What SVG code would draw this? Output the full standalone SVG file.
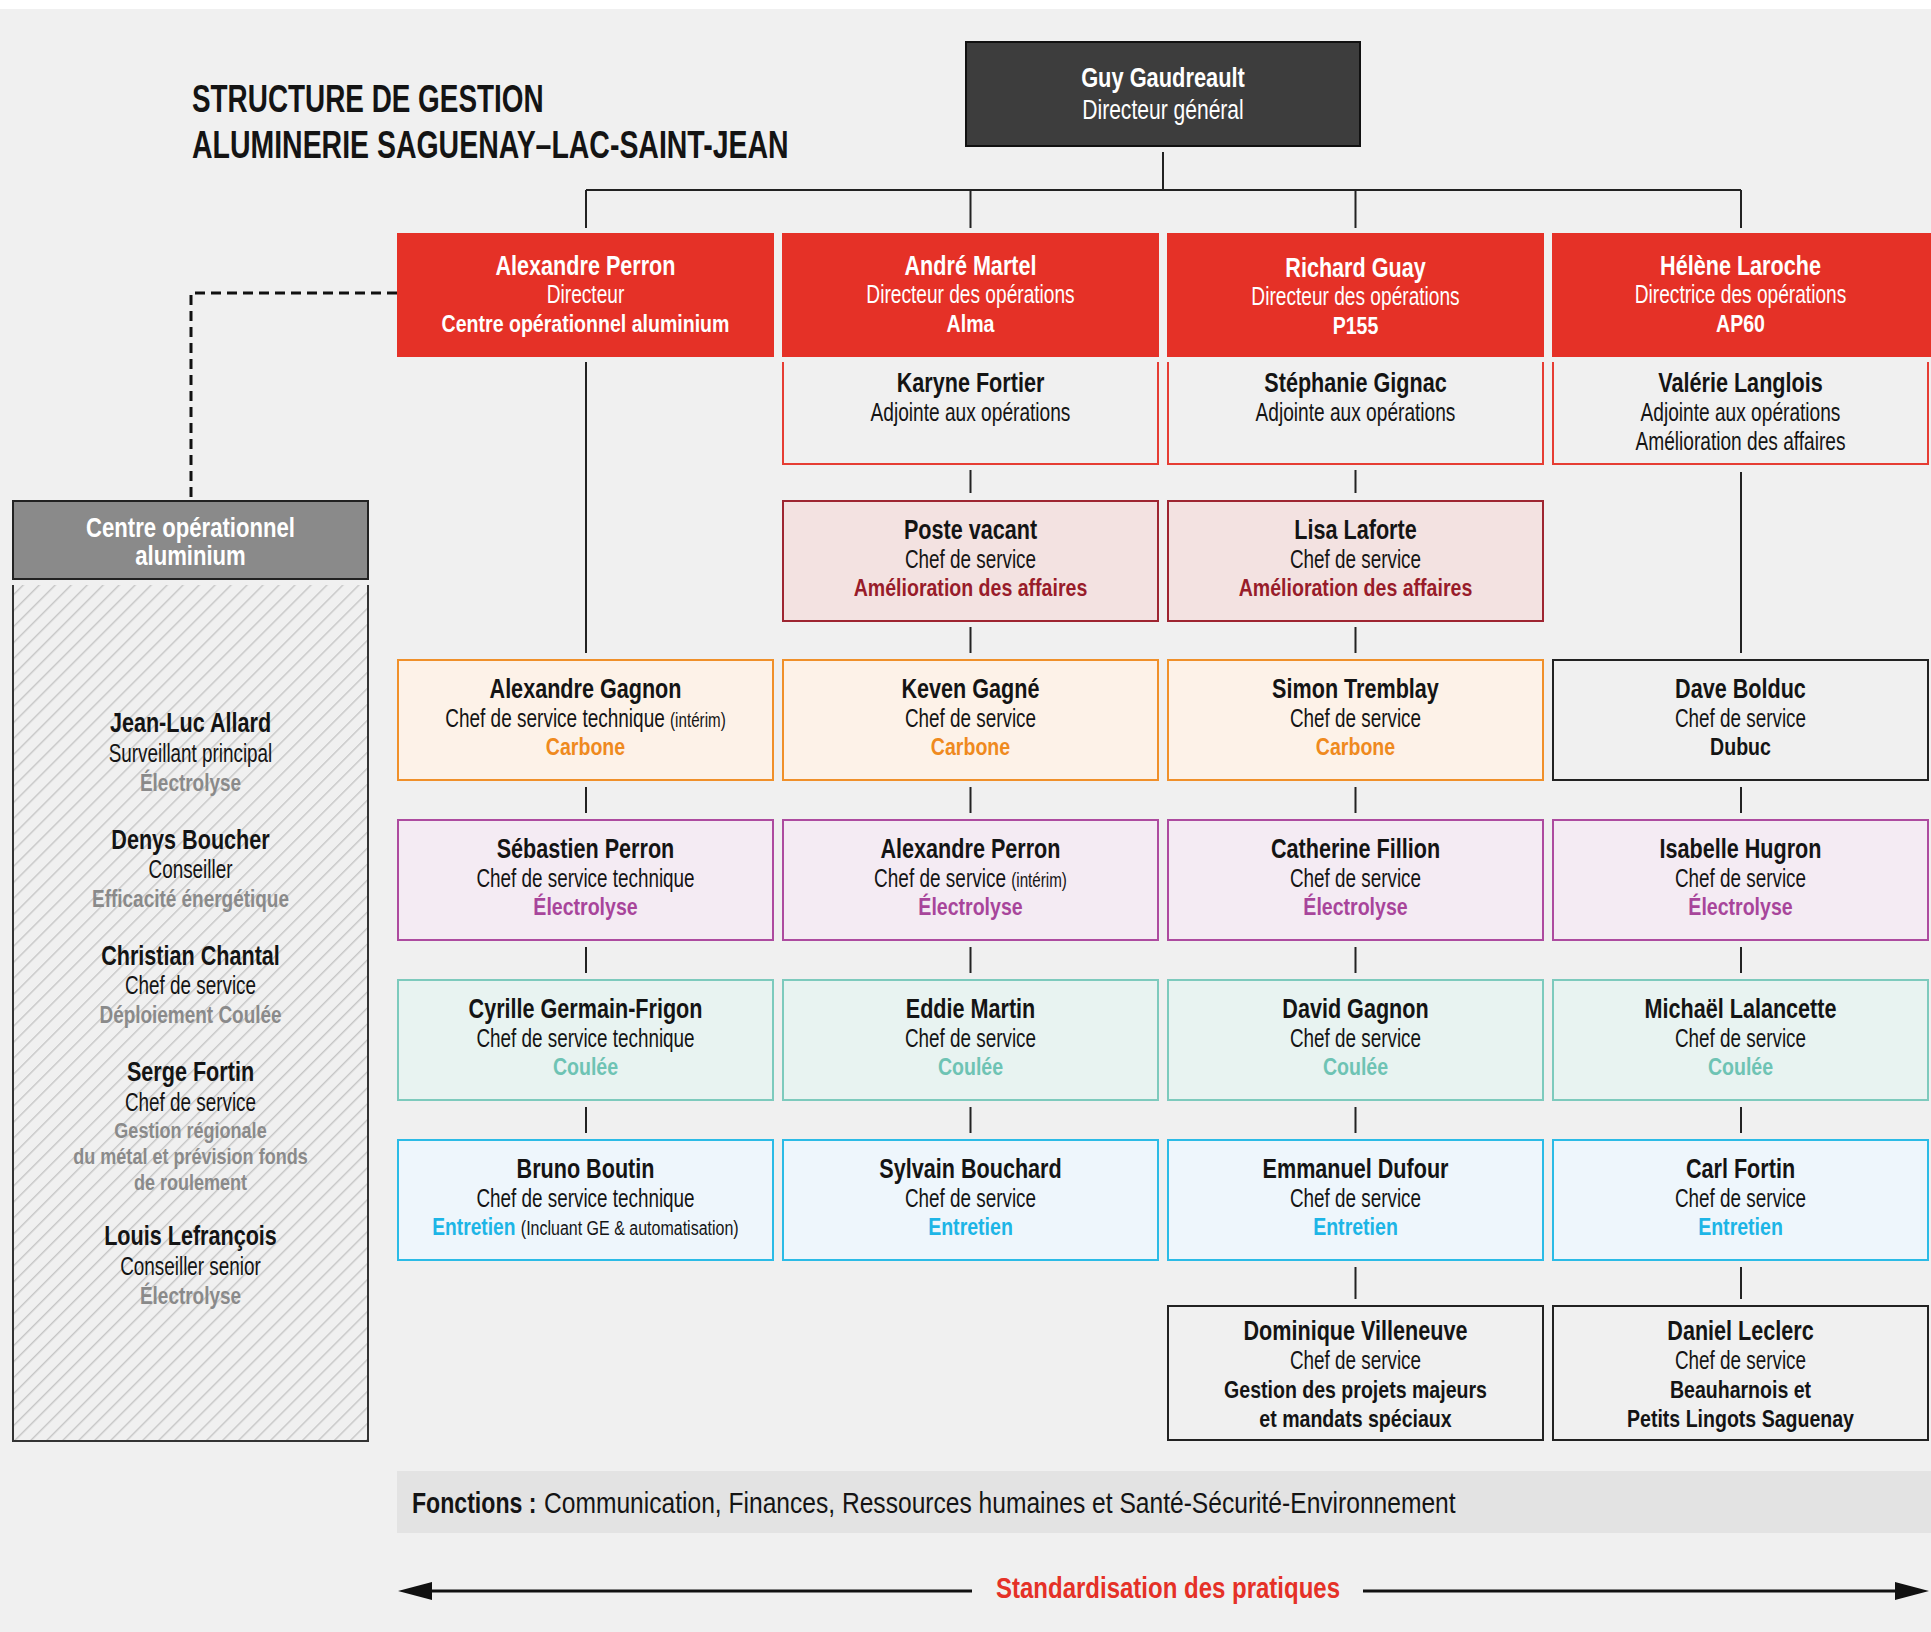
<svg xmlns="http://www.w3.org/2000/svg" width="1931" height="1632" viewBox="0 0 1931 1632">
<defs>
<style>
text{font-family:"Liberation Sans",Arial,sans-serif;text-anchor:middle;fill:#141414}
.nm{font-weight:700;font-size:27px}
.rl{font-weight:400;font-size:25px}
.un{font-weight:700;font-size:24px}
.sm{font-weight:400;font-size:20px;fill:#141414}
.w{fill:#fff}
.cb{fill:#ef8a1e}.el{fill:#a8459b}.co{fill:#6ec3b4}.en{fill:#1db5e6}.am{fill:#981c2a}.gy{fill:#8a8a8a}
.bc{fill:#fdf2e8;stroke:#f0902a;stroke-width:2}
.be{fill:#f4ebf3;stroke:#ad4b9f;stroke-width:2}
.bo{fill:#e8f3f1;stroke:#7dcabd;stroke-width:2}
.bn{fill:#eef6fc;stroke:#2bbbe6;stroke-width:2}
.bv{fill:#f3e2e1;stroke:#9e2531;stroke-width:2}
.bk{fill:#f0f0f0;stroke:#222;stroke-width:2}
.br{fill:#e53127}
.adj{fill:none;stroke:#e63d33;stroke-width:2}
.cn{stroke:#222;stroke-width:2;fill:none}
</style>
<pattern id="hatch" width="11.3" height="11.3" patternUnits="userSpaceOnUse" patternTransform="rotate(45)">
<rect width="11.3" height="11.3" fill="#f0f0f0"/>
<line x1="0.7" y1="0" x2="0.7" y2="11.3" stroke="#c6c6c6" stroke-width="1.4"/>
</pattern>
<marker id="ah" viewBox="0 0 34 18" refX="12" refY="9" markerWidth="34" markerHeight="18" markerUnits="userSpaceOnUse" orient="auto">
<path d="M0,0 L34,9 L0,18 z" fill="#111"/>
</marker>
</defs>

<rect x="0" y="0" width="1931" height="1632" fill="#ffffff"/>
<rect x="0" y="9" width="1931" height="1623" fill="#f0f0f0"/>

<g id="title">
<text class="nm" style="font-size:39px;text-anchor:start" transform="translate(192,112) scale(.715,1)">STRUCTURE DE GESTION</text>
<text class="nm" style="font-size:39px;text-anchor:start" transform="translate(192,158) scale(.73,1)">ALUMINERIE SAGUENAY–LAC-SAINT-JEAN</text>
</g>

<g id="connectors">
<path class="cn" d="M1163,152 V190 M586,190 H1741 M586,190 V228 M970.5,190 V228 M1355.5,190 V228 M1741,190 V228"/>
<path class="cn" d="M586,362 V653 M586,787 V813 M586,947 V973 M586,1107 V1133"/>
<path class="cn" d="M970.5,470 V493 M970.5,627 V653 M970.5,787 V813 M970.5,947 V973 M970.5,1107 V1133"/>
<path class="cn" d="M1355.5,470 V493 M1355.5,627 V653 M1355.5,787 V813 M1355.5,947 V973 M1355.5,1107 V1133 M1355.5,1267 V1299"/>
<path class="cn" d="M1741,472 V653 M1741,787 V813 M1741,947 V973 M1741,1107 V1133 M1741,1267 V1299"/>
<path d="M397,293 H191 V497" fill="none" stroke="#111" stroke-width="3" stroke-dasharray="10 6"/>
<line x1="972" y1="1591" x2="420" y2="1591" stroke="#111" stroke-width="3" marker-end="url(#ah)"/>
<line x1="1363" y1="1591" x2="1907" y2="1591" stroke="#111" stroke-width="3" marker-end="url(#ah)"/>
</g>

<g id="guy">
<rect x="966" y="42" width="394" height="104" fill="#3d3d3d" stroke="#111" stroke-width="2"/>
<text class="nm w" style="font-size:28px" transform="translate(1163,87) scale(.78,1)">Guy Gaudreault</text>
<text class="rl w" style="font-size:27px" transform="translate(1163,119) scale(.78,1)">Directeur général</text>
</g>

<g id="dir-perron">
<rect class="br" x="397" y="233" width="377" height="124"/>
<text class="nm w" transform="translate(585.5,275) scale(.8,1)">Alexandre Perron</text>
<text class="rl w" transform="translate(585.5,303) scale(.765,1)">Directeur</text>
<text class="un w" transform="translate(585.5,332) scale(.815,1)">Centre opérationnel aluminium</text>
</g>
<g id="dir-martel">
<rect class="br" x="782" y="233" width="377" height="124"/>
<text class="nm w" transform="translate(970.5,275) scale(.8,1)">André Martel</text>
<text class="rl w" transform="translate(970.5,303) scale(.765,1)">Directeur des opérations</text>
<text class="un w" transform="translate(970.5,332) scale(.815,1)">Alma</text>
</g>
<g id="dir-guay">
<rect class="br" x="1167" y="233" width="377" height="124"/>
<text class="nm w" transform="translate(1355.5,277) scale(.8,1)">Richard Guay</text>
<text class="rl w" transform="translate(1355.5,305) scale(.765,1)">Directeur des opérations</text>
<text class="un w" transform="translate(1355.5,334) scale(.815,1)">P155</text>
</g>
<g id="dir-laroche">
<rect class="br" x="1552" y="233" width="379" height="124"/>
<text class="nm w" transform="translate(1740.5,275) scale(.8,1)">Hélène Laroche</text>
<text class="rl w" transform="translate(1740.5,303) scale(.765,1)">Directrice des opérations</text>
<text class="un w" transform="translate(1740.5,332) scale(.815,1)">AP60</text>
</g>

<g id="adj-fortier">
<path class="adj" d="M783,362 V464 H1158 V362"/>
<text class="nm" transform="translate(970.5,392) scale(.8,1)">Karyne Fortier</text>
<text class="rl" transform="translate(970.5,421) scale(.765,1)">Adjointe aux opérations</text>
</g>
<g id="adj-gignac">
<path class="adj" d="M1168,362 V464 H1543 V362"/>
<text class="nm" transform="translate(1355.5,392) scale(.8,1)">Stéphanie Gignac</text>
<text class="rl" transform="translate(1355.5,421) scale(.765,1)">Adjointe aux opérations</text>
</g>
<g id="adj-langlois">
<path class="adj" d="M1553,362 V464 H1928 V362"/>
<text class="nm" transform="translate(1740.5,392) scale(.8,1)">Valérie Langlois</text>
<text class="rl" transform="translate(1740.5,421) scale(.765,1)">Adjointe aux opérations</text>
<text class="rl" transform="translate(1740.5,450) scale(.765,1)">Amélioration des affaires</text>
</g>

<g id="vacant">
<rect class="bv" x="783" y="501" width="375" height="120"/>
<text class="nm" transform="translate(970.5,539) scale(.8,1)">Poste vacant</text>
<text class="rl" transform="translate(970.5,568) scale(.755,1)">Chef de service</text>
<text class="un am" transform="translate(970.5,596) scale(.815,1)">Amélioration des affaires</text>
</g>
<g id="laforte">
<rect class="bv" x="1168" y="501" width="375" height="120"/>
<text class="nm" transform="translate(1355.5,539) scale(.8,1)">Lisa Laforte</text>
<text class="rl" transform="translate(1355.5,568) scale(.755,1)">Chef de service</text>
<text class="un am" transform="translate(1355.5,596) scale(.815,1)">Amélioration des affaires</text>
</g>

<g id="a-gagnon">
<rect class="bc" x="398" y="660" width="375" height="120"/>
<text class="nm" transform="translate(585.5,698) scale(.8,1)">Alexandre Gagnon</text>
<text class="rl" transform="translate(585.5,727) scale(.76,1)">Chef de service technique <tspan class="sm">(intérim)</tspan></text>
<text class="un cb" transform="translate(585.5,755) scale(.815,1)">Carbone</text>
</g>
<g id="k-gagne">
<rect class="bc" x="783" y="660" width="375" height="120"/>
<text class="nm" transform="translate(970.5,698) scale(.8,1)">Keven Gagné</text>
<text class="rl" transform="translate(970.5,727) scale(.755,1)">Chef de service</text>
<text class="un cb" transform="translate(970.5,755) scale(.815,1)">Carbone</text>
</g>
<g id="s-tremblay">
<rect class="bc" x="1168" y="660" width="375" height="120"/>
<text class="nm" transform="translate(1355.5,698) scale(.8,1)">Simon Tremblay</text>
<text class="rl" transform="translate(1355.5,727) scale(.755,1)">Chef de service</text>
<text class="un cb" transform="translate(1355.5,755) scale(.815,1)">Carbone</text>
</g>
<g id="d-bolduc">
<rect class="bk" x="1553" y="660" width="375" height="120"/>
<text class="nm" transform="translate(1740.5,698) scale(.8,1)">Dave Bolduc</text>
<text class="rl" transform="translate(1740.5,727) scale(.755,1)">Chef de service</text>
<text class="un" transform="translate(1740.5,755) scale(.815,1)">Dubuc</text>
</g>

<g id="s-perron">
<rect class="be" x="398" y="820" width="375" height="120"/>
<text class="nm" transform="translate(585.5,858) scale(.8,1)">Sébastien Perron</text>
<text class="rl" transform="translate(585.5,887) scale(.755,1)">Chef de service technique</text>
<text class="un el" transform="translate(585.5,915) scale(.815,1)">Électrolyse</text>
</g>
<g id="a-perron2">
<rect class="be" x="783" y="820" width="375" height="120"/>
<text class="nm" transform="translate(970.5,858) scale(.8,1)">Alexandre Perron</text>
<text class="rl" transform="translate(970.5,887) scale(.76,1)">Chef de service <tspan class="sm">(intérim)</tspan></text>
<text class="un el" transform="translate(970.5,915) scale(.815,1)">Électrolyse</text>
</g>
<g id="c-fillion">
<rect class="be" x="1168" y="820" width="375" height="120"/>
<text class="nm" transform="translate(1355.5,858) scale(.8,1)">Catherine Fillion</text>
<text class="rl" transform="translate(1355.5,887) scale(.755,1)">Chef de service</text>
<text class="un el" transform="translate(1355.5,915) scale(.815,1)">Électrolyse</text>
</g>
<g id="i-hugron">
<rect class="be" x="1553" y="820" width="375" height="120"/>
<text class="nm" transform="translate(1740.5,858) scale(.8,1)">Isabelle Hugron</text>
<text class="rl" transform="translate(1740.5,887) scale(.755,1)">Chef de service</text>
<text class="un el" transform="translate(1740.5,915) scale(.815,1)">Électrolyse</text>
</g>

<g id="c-germain">
<rect class="bo" x="398" y="980" width="375" height="120"/>
<text class="nm" transform="translate(585.5,1018) scale(.8,1)">Cyrille Germain-Frigon</text>
<text class="rl" transform="translate(585.5,1047) scale(.755,1)">Chef de service technique</text>
<text class="un co" transform="translate(585.5,1075) scale(.815,1)">Coulée</text>
</g>
<g id="e-martin">
<rect class="bo" x="783" y="980" width="375" height="120"/>
<text class="nm" transform="translate(970.5,1018) scale(.8,1)">Eddie Martin</text>
<text class="rl" transform="translate(970.5,1047) scale(.755,1)">Chef de service</text>
<text class="un co" transform="translate(970.5,1075) scale(.815,1)">Coulée</text>
</g>
<g id="d-gagnon">
<rect class="bo" x="1168" y="980" width="375" height="120"/>
<text class="nm" transform="translate(1355.5,1018) scale(.8,1)">David Gagnon</text>
<text class="rl" transform="translate(1355.5,1047) scale(.755,1)">Chef de service</text>
<text class="un co" transform="translate(1355.5,1075) scale(.815,1)">Coulée</text>
</g>
<g id="m-lalancette">
<rect class="bo" x="1553" y="980" width="375" height="120"/>
<text class="nm" transform="translate(1740.5,1018) scale(.8,1)">Michaël Lalancette</text>
<text class="rl" transform="translate(1740.5,1047) scale(.755,1)">Chef de service</text>
<text class="un co" transform="translate(1740.5,1075) scale(.815,1)">Coulée</text>
</g>

<g id="b-boutin">
<rect class="bn" x="398" y="1140" width="375" height="120"/>
<text class="nm" transform="translate(585.5,1178) scale(.8,1)">Bruno Boutin</text>
<text class="rl" transform="translate(585.5,1207) scale(.755,1)">Chef de service technique</text>
<text class="un en" transform="translate(585.5,1235) scale(.8,1)">Entretien <tspan class="sm">(Incluant GE &amp; automatisation)</tspan></text>
</g>
<g id="s-bouchard">
<rect class="bn" x="783" y="1140" width="375" height="120"/>
<text class="nm" transform="translate(970.5,1178) scale(.8,1)">Sylvain Bouchard</text>
<text class="rl" transform="translate(970.5,1207) scale(.755,1)">Chef de service</text>
<text class="un en" transform="translate(970.5,1235) scale(.815,1)">Entretien</text>
</g>
<g id="e-dufour">
<rect class="bn" x="1168" y="1140" width="375" height="120"/>
<text class="nm" transform="translate(1355.5,1178) scale(.8,1)">Emmanuel Dufour</text>
<text class="rl" transform="translate(1355.5,1207) scale(.755,1)">Chef de service</text>
<text class="un en" transform="translate(1355.5,1235) scale(.815,1)">Entretien</text>
</g>
<g id="c-fortin">
<rect class="bn" x="1553" y="1140" width="375" height="120"/>
<text class="nm" transform="translate(1740.5,1178) scale(.8,1)">Carl Fortin</text>
<text class="rl" transform="translate(1740.5,1207) scale(.755,1)">Chef de service</text>
<text class="un en" transform="translate(1740.5,1235) scale(.815,1)">Entretien</text>
</g>

<g id="d-villeneuve">
<rect class="bk" x="1168" y="1306" width="375" height="134"/>
<text class="nm" transform="translate(1355.5,1340) scale(.8,1)">Dominique Villeneuve</text>
<text class="rl" transform="translate(1355.5,1369) scale(.755,1)">Chef de service</text>
<text class="un" transform="translate(1355.5,1398) scale(.815,1)">Gestion des projets majeurs</text>
<text class="un" transform="translate(1355.5,1427) scale(.815,1)">et mandats spéciaux</text>
</g>
<g id="d-leclerc">
<rect class="bk" x="1553" y="1306" width="375" height="134"/>
<text class="nm" transform="translate(1740.5,1340) scale(.8,1)">Daniel Leclerc</text>
<text class="rl" transform="translate(1740.5,1369) scale(.755,1)">Chef de service</text>
<text class="un" transform="translate(1740.5,1398) scale(.815,1)">Beauharnois et</text>
<text class="un" transform="translate(1740.5,1427) scale(.815,1)">Petits Lingots Saguenay</text>
</g>

<g id="centre-op">
<rect x="13" y="501" width="355" height="78" fill="#8a8a8a" stroke="#222" stroke-width="2"/>
<text class="nm w" style="font-size:28px" transform="translate(190.5,537) scale(.79,1)">Centre opérationnel</text>
<text class="nm w" style="font-size:28px" transform="translate(190.5,565) scale(.79,1)">aluminium</text>
</g>
<g id="centre-panel">
<rect x="13" y="585" width="355" height="856" fill="url(#hatch)"/>
<path d="M13,585 V1441 H368 V585" fill="none" stroke="#333" stroke-width="2"/>
<text class="nm" transform="translate(190.5,732) scale(.8,1)">Jean-Luc Allard</text>
<text class="rl" transform="translate(190.5,762) scale(.755,1)">Surveillant principal</text>
<text class="un gy" transform="translate(190.5,791) scale(.79,1)">Électrolyse</text>
<text class="nm" transform="translate(190.5,849) scale(.8,1)">Denys Boucher</text>
<text class="rl" transform="translate(190.5,878) scale(.755,1)">Conseiller</text>
<text class="un gy" transform="translate(190.5,907) scale(.79,1)">Efficacité énergétique</text>
<text class="nm" transform="translate(190.5,965) scale(.8,1)">Christian Chantal</text>
<text class="rl" transform="translate(190.5,994) scale(.755,1)">Chef de service</text>
<text class="un gy" transform="translate(190.5,1023) scale(.79,1)">Déploiement Coulée</text>
<text class="nm" transform="translate(190.5,1081) scale(.8,1)">Serge Fortin</text>
<text class="rl" transform="translate(190.5,1111) scale(.755,1)">Chef de service</text>
<text class="un gy" style="font-size:22px" transform="translate(190.5,1138) scale(.82,1)">Gestion régionale</text>
<text class="un gy" style="font-size:22px" transform="translate(190.5,1164) scale(.82,1)">du métal et prévision fonds</text>
<text class="un gy" style="font-size:22px" transform="translate(190.5,1190) scale(.82,1)">de roulement</text>
<text class="nm" transform="translate(190.5,1245) scale(.8,1)">Louis Lefrançois</text>
<text class="rl" transform="translate(190.5,1275) scale(.755,1)">Conseiller senior</text>
<text class="un gy" transform="translate(190.5,1304) scale(.79,1)">Électrolyse</text>
</g>

<g id="fonctions">
<rect x="397" y="1471" width="1534" height="62" fill="#e3e3e3"/>
<text class="nm" style="font-size:30px;text-anchor:start" transform="translate(412,1513) scale(.77,1)">Fonctions :</text>
<text class="rl" style="font-size:30px;text-anchor:start" transform="translate(544,1513) scale(.82,1)">Communication, Finances, Ressources humaines et Santé-Sécurité-Environnement</text>
</g>

<g id="standardisation">
<text class="nm" style="font-size:30px;fill:#e53127" transform="translate(1168,1598) scale(.8,1)">Standardisation des pratiques</text>
</g>
</svg>
